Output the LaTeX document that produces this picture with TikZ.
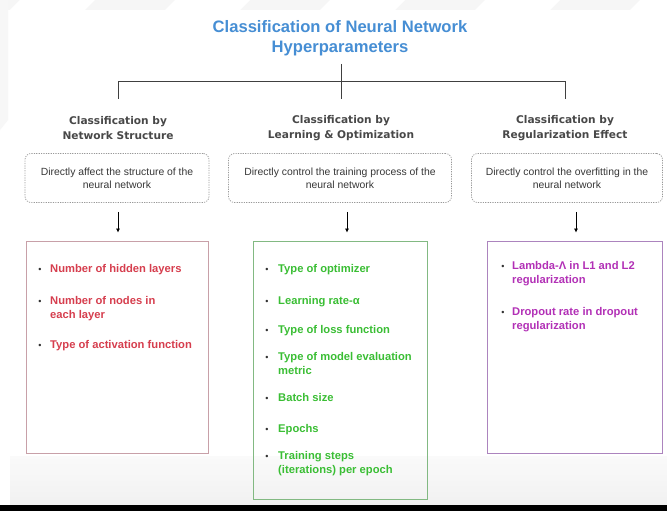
\documentclass[tikz,border=0pt]{standalone}
\usepackage{fontspec}
\setmainfont{Liberation Sans}
\newfontfamily\headfont{DejaVu Sans}
\usetikzlibrary{arrows.meta}

\definecolor{titleblue}{RGB}{70,142,212}
\definecolor{headgray}{RGB}{72,72,72}
\definecolor{notegray}{RGB}{55,55,55}
\definecolor{itemred}{RGB}{214,62,78}
\definecolor{itemgreen}{RGB}{58,190,52}
\definecolor{itempurple}{RGB}{178,48,182}
\definecolor{edgered}{RGB}{200,160,168}
\definecolor{edgegreen}{RGB}{130,185,130}
\definecolor{edgepurple}{RGB}{172,132,190}

\tikzset{
  x=1pt, y=-1pt,
  titletext/.style={font=\fontsize{16.6}{20}\selectfont\bfseries, text=titleblue, align=center},
  headtext/.style={font=\headfont\bfseries\fontsize{10.6}{14.5}\selectfont, text=headgray, align=center},
  notebox/.style={draw=gray!80, rounded corners=6pt, dash pattern=on 1.2pt off 1.2pt,
    line width=0.7pt, minimum height=49pt, align=center,
    font=\fontsize{10.4}{13}\selectfont, text=notegray},
  listbox/.style={draw=#1, line width=0.8pt},
  branch/.style={draw=black!75, line width=0.8pt},
  down/.style={draw=black, line width=0.7pt, -{Latex[length=4pt,width=4pt]},
    shorten <=9pt, shorten >=8pt},
  item/.style={anchor=base west, align=left, inner sep=0pt,
    font=\fontsize{11.2}{14}\selectfont\bfseries, text=#1},
  dot/.style={anchor=base, inner sep=0pt, font=\fontsize{9}{14}\selectfont, text=black!80},
}

\begin{document}
\begin{tikzpicture}
% page background, lower shading band and dark strip
\useasboundingbox (0,0) rectangle (667,511);
\fill[white] (0,0) rectangle (667,511);
\fill[gray!7] (0,0) rectangle (667,10);
\fill[gray!6] (0,0) -- (8,0) -- (8,120) -- (0,130) -- cycle;
\foreach \s in {20,175,330,485,640}{
  \fill[white] (\s,0) -- (\s+75,0) -- (\s+65,10) -- (\s-10,10) -- cycle;
}
\shade[top color=gray!4, bottom color=gray!11] (10,456) rectangle (667,505);
\fill[black] (0,505) rectangle (667,511);

% title and tree junction
\node[titletext] (title) at (340,38) {Classification of Neural Network\\Hyperparameters};
\coordinate (jtop) at (341,64);
\coordinate (jl) at (118,81);
\coordinate (jr) at (565,81);
\coordinate (dl) at (118,99);
\coordinate (dm) at (341,99);
\coordinate (dr) at (565,99);
\draw[branch] (jtop) -- (dm);
\draw[branch] (dl) -- (jl) -- (jr) -- (dr);

% column headings
\node[headtext] (h1) at (118,128) {Classification by\\Network Structure};
\node[headtext] (h2) at (341,128) {Classification by\\Learning \& Optimization};
\node[headtext] (h3) at (565,128) {Classification by\\Regularization Effect};

% dotted description boxes
\node[notebox, minimum width=184pt] (n1) at (117,178) {Directly affect the structure of the\\neural network};
\node[notebox, minimum width=223pt] (n2) at (340,178) {Directly control the training process of the\\neural network};
\node[notebox, minimum width=191pt] (n3) at (567,178) {Directly control the overfitting in the\\neural network};

% parameter list frames
\node[listbox=edgered, minimum width=182pt, minimum height=212pt] (b1) at (117,347) {};
\node[listbox=edgegreen, minimum width=174pt, minimum height=258pt] (b2) at (340,370) {};
\node[listbox=edgepurple, minimum width=175pt, minimum height=212pt] (b3) at (574.5,347) {};

% arrows from descriptions down to the lists
\coordinate (x1) at (118,0);
\coordinate (x2) at (347,0);
\coordinate (x3) at (576,0);
\draw[down] (n1.south -| x1) -- (b1.north -| x1);
\draw[down] (n2.south -| x2) -- (b2.north -| x2);
\draw[down] (n3.south -| x3) -- (b3.north -| x3);

% structure parameters
\node[dot] (d11) at (40,272) {•};
\node[item=itemred] (i11) at (50,272) {Number of hidden layers};
\node[dot] (d12) at (40,304) {•};
\node[item=itemred] (i12) at (50,318) {Number of nodes in\\each layer};
\node[dot] (d13) at (40,348) {•};
\node[item=itemred] (i13) at (50,348) {Type of activation function};

% learning and optimization parameters
\node[dot] (d21) at (267,272) {•};
\node[item=itemgreen] (i21) at (278,272) {Type of optimizer};
\node[dot] (d22) at (267,304) {•};
\node[item=itemgreen] (i22) at (278,304) {Learning rate-α};
\node[dot] (d23) at (267,333) {•};
\node[item=itemgreen] (i23) at (278,333) {Type of loss function};
\node[dot] (d24) at (267,360) {•};
\node[item=itemgreen] (i24) at (278,374) {Type of model evaluation\\metric};
\node[dot] (d25) at (267,401) {•};
\node[item=itemgreen] (i25) at (278,401) {Batch size};
\node[dot] (d26) at (267,432) {•};
\node[item=itemgreen] (i26) at (278,432) {Epochs};
\node[dot] (d27) at (267,459) {•};
\node[item=itemgreen] (i27) at (278,473) {Training steps\\(iterations) per epoch};

% regularization parameters
\node[dot] (d31) at (503,269) {•};
\node[item=itempurple] (i31) at (512,283) {Lambda-Λ in L1 and L2\\regularization};
\node[dot] (d32) at (503,315) {•};
\node[item=itempurple] (i32) at (512,329) {Dropout rate in dropout\\regularization};
\end{tikzpicture}
\end{document}
